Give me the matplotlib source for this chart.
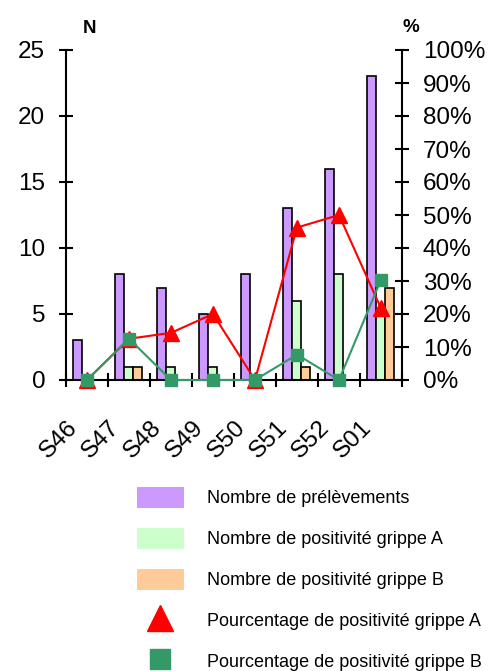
import numpy as np
import matplotlib.pyplot as plt
import matplotlib.transforms as mtransforms
from matplotlib.patches import Patch
from matplotlib.lines import Line2D
from matplotlib.ticker import PercentFormatter, FixedLocator

plt.rcParams['font.family'] = ['Liberation Sans', 'DejaVu Sans']

# Données
semaines = ['S46', 'S47', 'S48', 'S49', 'S50', 'S51', 'S52', 'S01']
n_prelev = [3, 8, 7, 5, 8, 13, 16, 23]
n_grippe_a = [0, 1, 1, 1, 0, 6, 8, 5]
n_grippe_b = [0, 1, 0, 0, 0, 1, 0, 7]
pct_grippe_a = [0, 12.5, 14.3, 20.0, 0, 46.2, 50.0, 21.7]
pct_grippe_b = [0, 12.5, 0, 0, 0, 7.7, 0, 30.4]

c_violet = '#CC99FF'
c_vert = '#CCFFCC'
c_orange = '#FFCC99'
c_rouge = '#FF0000'
c_vert_fonce = '#339966'

fig = plt.figure(figsize=[4.88, 6.71], dpi=100)
ax = fig.add_axes([66/488, 1 - 380/671, (402 - 66)/488, 330/671])
ax2 = ax.twinx()

x = np.arange(len(semaines))
w = 0.22
ax.bar(x - 0.235, n_prelev, w, color=c_violet, edgecolor='black', linewidth=1.2, zorder=2)
ax.bar(x - 0.015, n_grippe_a, w, color=c_vert, edgecolor='black', linewidth=1.2, zorder=2)
ax.bar(x + 0.205, n_grippe_b, w, color=c_orange, edgecolor='black', linewidth=1.2, zorder=2)

ax2.plot(x, pct_grippe_a, color=c_rouge, lw=1.5, marker='^', ms=11,
         clip_on=False, zorder=3)
ax2.plot(x, pct_grippe_b, color=c_vert_fonce, lw=1.5, marker='s', ms=8,
         clip_on=False, zorder=4)

# Axes
ax.set_xlim(-0.5, len(semaines) - 0.5)
ax.set_ylim(0, 25)
ax.set_yticks(np.arange(0, 26, 5))
ax2.set_ylim(0, 100)
ax2.set_yticks(np.arange(0, 101, 10))
ax2.yaxis.set_major_formatter(PercentFormatter(decimals=0))

for a in (ax, ax2):
    a.spines['top'].set_visible(False)
    for s in ('left', 'right', 'bottom'):
        a.spines[s].set_linewidth(1.5)
ax2.spines['bottom'].set_visible(False)
ax2.spines['left'].set_visible(False)
ax.spines['right'].set_visible(False)

ax.xaxis.set_major_locator(FixedLocator(np.arange(-0.5, len(semaines), 1.0)))
ax.xaxis.set_major_formatter(plt.NullFormatter())
ax.xaxis.set_minor_locator(FixedLocator(x))
ax.set_xticklabels(semaines, minor=True, rotation=45, ha='right', va='top',
                   rotation_mode='anchor', fontsize=17.5)
ax.tick_params(axis='x', which='major', direction='inout', length=10, width=1.5)
ax.tick_params(axis='x', which='minor', length=0, pad=26)
offset = mtransforms.ScaledTranslation(-21/100, 0, fig.dpi_scale_trans)
for lab in ax.xaxis.get_minorticklabels():
    lab.set_transform(lab.get_transform() + offset)

ax.tick_params(axis='y', direction='inout', length=10, width=1.5, labelsize=17.5, pad=10)
ax2.tick_params(axis='y', direction='inout', length=10, width=1.5, labelsize=17.5, pad=10)

fig.text(89/488, 1 - 28.5/671, 'N', fontsize=13.5, fontweight='bold', ha='center', va='center')
fig.text(411/488, 1 - 27/671, '%', fontsize=13.5, fontweight='bold', ha='center', va='center')

# Légende
handles = [
    Patch(facecolor=c_violet, edgecolor='none'),
    Patch(facecolor=c_vert, edgecolor='none'),
    Patch(facecolor=c_orange, edgecolor='none'),
    Line2D([], [], ls='none', marker='^', ms=19, color=c_rouge),
    Line2D([], [], ls='none', marker='s', ms=15, color=c_vert_fonce),
]
labels = ['Nombre de prélèvements',
          'Nombre de positivité grippe A',
          'Nombre de positivité grippe B',
          'Pourcentage de positivité grippe A',
          'Pourcentage de positivité grippe B']
fig.legend(handles, labels, loc='upper left', bbox_to_anchor=(137/488, 1 - 487/671),
           frameon=False, fontsize=13, borderpad=0, borderaxespad=0,
           handlelength=2.58, handleheight=1.38, handletextpad=1.27,
           labelspacing=1.13)

fig.savefig('out.png', dpi=100)
